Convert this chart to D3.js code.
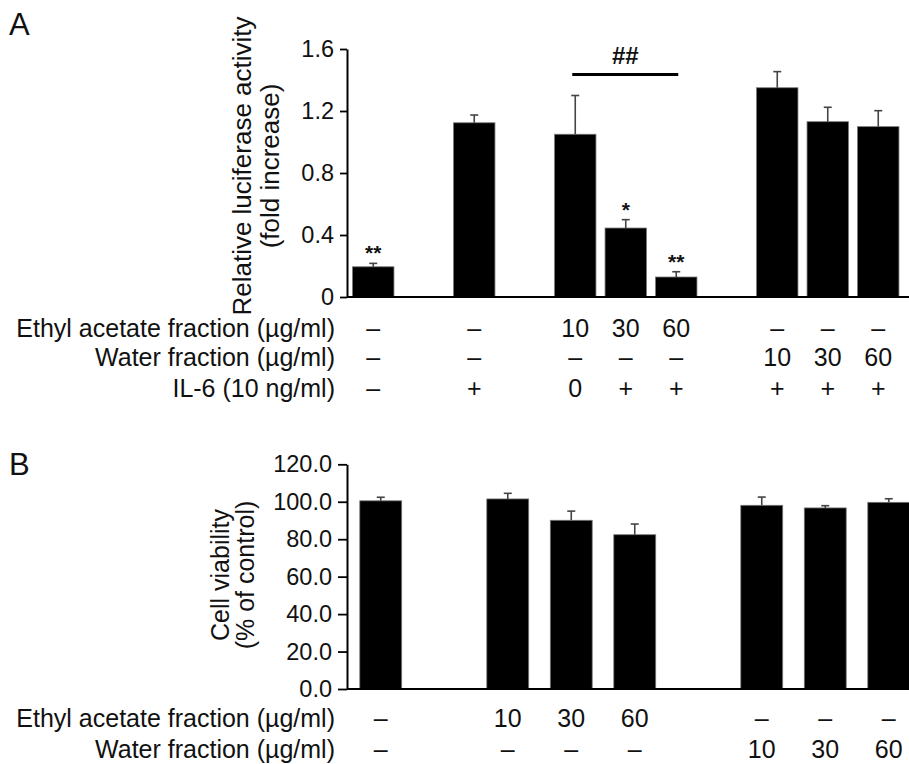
<!DOCTYPE html>
<html lang="en">
<head>
  <meta charset="UTF-8">
  <title>Luciferase activity and cell viability</title>
  <script src="https://d3js.org/d3.v7.min.js"></script>
  <style>
    body {
      margin: 0;
      background: #fff;
      font-family: "Liberation Sans", Arial, Helvetica, sans-serif;
    }
    svg text { fill: #111; }
  </style>
</head>
<body>
  <svg id="chart" width="909" height="764"></svg>

  <script>
    // ---- Panel A data: relative luciferase activity (fold increase)
    const lucSlots = [0, 2, 4, 5, 6, 8, 9, 10];
    const lucValues = [0.195, 1.124, 1.05, 0.445, 0.129, 1.35, 1.131, 1.099];
    const lucErrors = [0.022, 0.05, 0.25, 0.054, 0.034, 0.104, 0.093, 0.103];
    const lucStars = ["**", "", "", "*", "**", "", "", ""];
    const lucTicks = [0, 0.4, 0.8, 1.2, 1.6];
    const lucRowLabels = ["Ethyl acetate fraction (\u00b5g/ml)", "Water fraction (\u00b5g/ml)", "IL-6 (10 ng/ml)"];
    const lucEthyl = ["\u2013", "\u2013", "10", "30", "60", "\u2013", "\u2013", "\u2013"];
    const lucWater = ["\u2013", "\u2013", "\u2013", "\u2013", "\u2013", "10", "30", "60"];
    const lucIL6 = ["\u2013", "+", "0", "+", "+", "+", "+", "+"];

    // ---- Panel B data: cell viability (% of control)
    const viaSlots = [0, 2, 3, 4, 6, 7, 8];
    const viaValues = [100.5, 101.5, 90.1, 82.4, 98.1, 96.7, 99.7];
    const viaErrors = [1.9, 3.0, 4.9, 5.7, 4.4, 1.2, 1.9];
    const viaTicks = [0, 20, 40, 60, 80, 100, 120];
    const viaRowLabels = ["Ethyl acetate fraction (\u00b5g/ml)", "Water fraction (\u00b5g/ml)"];
    const viaEthyl = ["\u2013", "10", "30", "60", "\u2013", "\u2013", "\u2013"];
    const viaWater = ["\u2013", "\u2013", "\u2013", "\u2013", "10", "30", "60"];

    const svg = d3.select("#chart");
    const W = 909;

    function drawPanel(cfg) {
      const g = svg.append("g");
      const x = d3.scaleBand()
        .domain(d3.range(cfg.nSlots))
        .range(cfg.xRange)
        .paddingInner(cfg.padIn)
        .paddingOuter(cfg.padIn / 2);
      const y = d3.scaleLinear().domain(cfg.yDomain).range(cfg.yRange);

      const data = cfg.values.map((v, i) => ({
        slot: cfg.slots[i], value: v, err: cfg.errors[i],
        star: cfg.stars ? cfg.stars[i] : ""
      }));
      const cx = d => x(d.slot) + x.bandwidth() / 2;

      // bars
      g.selectAll("rect.bar").data(data).join("rect")
        .attr("class", "bar")
        .attr("x", d => x(d.slot))
        .attr("width", x.bandwidth())
        .attr("y", d => y(d.value))
        .attr("height", d => y(0) - y(d.value))
        .attr("fill", "#000")
        .attr("stroke", "#777")
        .attr("stroke-width", 0.8);

      // upper error bars
      g.selectAll("line.err").data(data).join("line")
        .attr("class", "err")
        .attr("x1", cx).attr("x2", cx)
        .attr("y1", d => y(d.value))
        .attr("y2", d => y(d.value + d.err))
        .attr("stroke", "#444").attr("stroke-width", 1.6);
      g.selectAll("line.cap").data(data).join("line")
        .attr("class", "cap")
        .attr("x1", d => cx(d) - 4).attr("x2", d => cx(d) + 4)
        .attr("y1", d => y(d.value + d.err))
        .attr("y2", d => y(d.value + d.err))
        .attr("stroke", "#444").attr("stroke-width", 1.6);

      // significance stars
      g.selectAll("text.star").data(data.filter(d => d.star)).join("text")
        .attr("class", "star")
        .attr("x", cx)
        .attr("y", d => y(d.value + d.err) - 3)
        .attr("text-anchor", "middle")
        .attr("font-size", 21)
        .attr("font-weight", "bold")
        .text(d => d.star);

      // y axis
      const yAxis = g.append("g")
        .attr("transform", `translate(${cfg.axisX},0)`)
        .call(d3.axisLeft(y).tickValues(cfg.ticks).tickFormat(cfg.fmt)
          .tickSize(cfg.tickSize).tickPadding(cfg.tickPad).tickSizeOuter(0));
      yAxis.select(".domain").attr("stroke", "#000").attr("stroke-width", 2);
      yAxis.selectAll(".tick line").attr("stroke", "#000").attr("stroke-width", 1.8);
      yAxis.selectAll(".tick text")
        .attr("font-size", 23.5)
        .attr("font-family", "Liberation Sans, Arial, sans-serif")
        .attr("fill", "#111");

      // baseline
      g.append("line")
        .attr("x1", cfg.axisX).attr("x2", W)
        .attr("y1", y(0)).attr("y2", y(0))
        .attr("stroke", "#000").attr("stroke-width", 2);

      // y title (two lines)
      cfg.title.forEach((t, i) => {
        g.append("text")
          .attr("transform", `translate(${cfg.titleX[i]},${cfg.titleY}) rotate(-90)`)
          .attr("text-anchor", "middle")
          .attr("font-size", cfg.titleSize)
          .text(t);
      });

      // treatment table
      cfg.rows.forEach((row, r) => {
        g.append("text")
          .attr("x", 335)
          .attr("y", cfg.rowY[r])
          .attr("text-anchor", "end")
          .attr("font-size", 25)
          .text(cfg.rowLabels[r]);
        g.selectAll(null).data(row).join("text")
          .attr("x", (d, i) => cx(data[i]))
          .attr("y", cfg.rowY[r])
          .attr("text-anchor", "middle")
          .attr("font-size", 25)
          .text(d => d);
      });

      // panel letter
      g.append("text")
        .attr("x", 9).attr("y", cfg.letterY)
        .attr("font-size", 31)
        .text(cfg.letter);

      return { g, x, y, data, cx };
    }

    const A = drawPanel({
      letter: "A", letterY: 35,
      nSlots: 11, xRange: [348, 903.5], padIn: 0.18,
      yDomain: [0, 1.6], yRange: [297, 49],
      slots: lucSlots, values: lucValues, errors: lucErrors, stars: lucStars,
      ticks: lucTicks, fmt: d => d === 0 ? "0" : d3.format(".1f")(d),
      axisX: 347, tickSize: 7, tickPad: 6,
      title: ["Relative luciferase activity", "(fold increase)"],
      titleX: [251, 279], titleY: 166, titleSize: 26,
      rows: [lucEthyl, lucWater, lucIL6], rowLabels: lucRowLabels,
      rowY: [337, 366, 397]
    });

    // ## bracket between the ethyl acetate bars
    const b0 = A.cx(A.data[2]) - 3, b1 = A.cx(A.data[4]) + 2;
    A.g.append("line")
      .attr("x1", b0).attr("x2", b1)
      .attr("y1", 74.5).attr("y2", 74.5)
      .attr("stroke", "#000").attr("stroke-width", 3);
    A.g.append("text")
      .attr("x", (b0 + b1) / 2).attr("y", 64)
      .attr("text-anchor", "middle")
      .attr("font-size", 24)
      .attr("font-weight", "bold")
      .text("##");

    drawPanel({
      letter: "B", letterY: 475,
      nSlots: 9, xRange: [349, 920.5], padIn: 0.34,
      yDomain: [0, 120], yRange: [689, 464.3],
      slots: viaSlots, values: viaValues, errors: viaErrors,
      ticks: viaTicks, fmt: d3.format(".1f"),
      axisX: 347, tickSize: 9, tickPad: 6,
      title: ["Cell viability", "(% of control)"],
      titleX: [229, 254], titleY: 575, titleSize: 25,
      rows: [viaEthyl, viaWater], rowLabels: viaRowLabels,
      rowY: [727, 758]
    });
  </script>
</body>
</html>
